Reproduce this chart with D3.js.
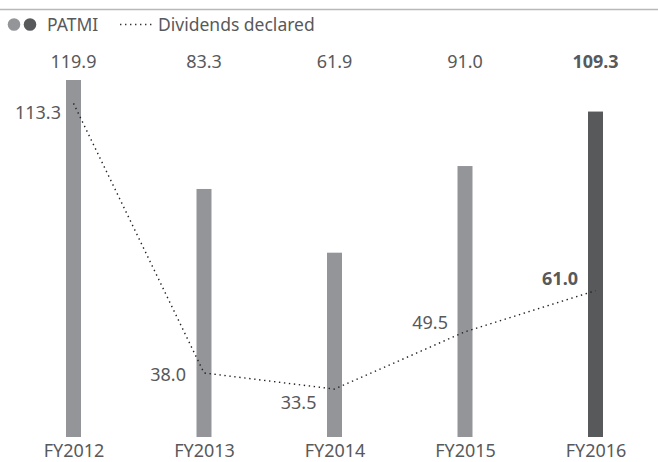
<!DOCTYPE html>
<html>
<head>
<meta charset="utf-8">
<script src="https://cdn.jsdelivr.net/npm/d3@7/dist/d3.min.js"></script>
<style>
  html, body { margin: 0; padding: 0; background: #fff; }
  svg { display: block; font-family: "Noto Sans", "Open Sans", sans-serif; }
</style>
</head>
<body>
<svg id="chart" width="658" height="462"></svg>
<script>
// Financial years
const categories = ["FY2012", "FY2013", "FY2014", "FY2015", "FY2016"];
// PATMI (S$ million)
const patmi = [119.9, 83.3, 61.9, 91.0, 109.3];
// Dividends declared (S$ million)
const dividends = [113.3, 38.0, 33.5, 49.5, 61.0];
// Value label text
const patmiLabels = ["119.9", "83.3", "61.9", "91.0", "109.3"];
const dividendLabels = ["113.3", "38.0", "33.5", "49.5", "61.0"];

const W = 658, H = 462;
const svg = d3.select("#chart");
const font = "'Noto Sans', 'Open Sans', sans-serif";

const lightGrey = "#939598";
const darkGrey = "#58595b";
const textGrey = "#58595b";

// Header rule
svg.append("line")
  .attr("x1", 0).attr("x2", W)
  .attr("y1", 9.5).attr("y2", 9.5)
  .attr("stroke", "#b8b8b8").attr("stroke-width", 1.5);

// Legend
const legend = svg.append("g");
legend.append("circle").attr("cx", 14).attr("cy", 24.5).attr("r", 6.3).attr("fill", lightGrey);
legend.append("circle").attr("cx", 30).attr("cy", 24.5).attr("r", 6.3).attr("fill", darkGrey);
legend.append("text").attr("x", 47).attr("y", 31).attr("font-size", 17.5)
  .attr("fill", textGrey).text("PATMI");
legend.append("line").attr("x1", 120).attr("x2", 152).attr("y1", 24.5).attr("y2", 24.5)
  .attr("stroke", "#333").attr("stroke-width", 1.4).attr("stroke-dasharray", "1.4,3.6");
legend.append("text").attr("x", 158).attr("y", 31).attr("font-size", 17.5)
  .attr("fill", textGrey).text("Dividends declared");

// Scales
const x = d3.scalePoint().domain(categories).range([73.5, 595.5]);
const yBar = d3.scaleLinear().domain([0, 120]).range([437, 79.7]);
const yLine = d3.scaleLinear().domain([0, 120]).range([509, 79.4]);
const barW = 15;

// Bars
svg.append("g").selectAll("rect")
  .data(categories)
  .join("rect")
  .attr("x", d => x(d) - barW / 2)
  .attr("width", barW)
  .attr("y", (d, i) => yBar(patmi[i]))
  .attr("height", (d, i) => yBar(0) - yBar(patmi[i]))
  .attr("fill", (d, i) => i === categories.length - 1 ? darkGrey : lightGrey);

// PATMI labels along the top
svg.append("g").selectAll("text")
  .data(categories)
  .join("text")
  .attr("x", d => x(d))
  .attr("y", 68)
  .attr("text-anchor", "middle")
  .attr("font-size", 18)
  .attr("font-weight", (d, i) => i === categories.length - 1 ? 700 : 400)
  .attr("fill", textGrey)
  .text((d, i) => patmiLabels[i]);

// Dividends line (dotted)
const line = d3.line()
  .x((d, i) => x(categories[i]))
  .y(d => yLine(d));

svg.append("path")
  .datum(dividends)
  .attr("d", line)
  .attr("fill", "none")
  .attr("stroke", "#222")
  .attr("stroke-width", 1.4)
  .attr("stroke-dasharray", "1.4,3.6");

// Dividend labels, set to the left of each point
const labelDx = [-12.5, -18, -18, -17, -17.5];
const labelDy = [16, 8, 20, -3, -6];
svg.append("g").selectAll("text")
  .data(dividends)
  .join("text")
  .attr("x", (d, i) => x(categories[i]) + labelDx[i])
  .attr("y", (d, i) => yLine(d) + labelDy[i])
  .attr("text-anchor", "end")
  .attr("font-size", 18)
  .attr("font-weight", (d, i) => i === categories.length - 1 ? 700 : 400)
  .attr("fill", textGrey)
  .text((d, i) => dividendLabels[i]);

// Category axis labels
const xAxis = d3.axisBottom(x).tickSize(0).tickPadding(0);
const gx = svg.append("g").attr("transform", "translate(0,441)").call(xAxis);
gx.select(".domain").remove();
gx.selectAll("text")
  .attr("font-size", 18)
  .attr("font-family", font)
  .attr("fill", textGrey)
  .attr("dy", "0.9em");
</script>
</body>
</html>
